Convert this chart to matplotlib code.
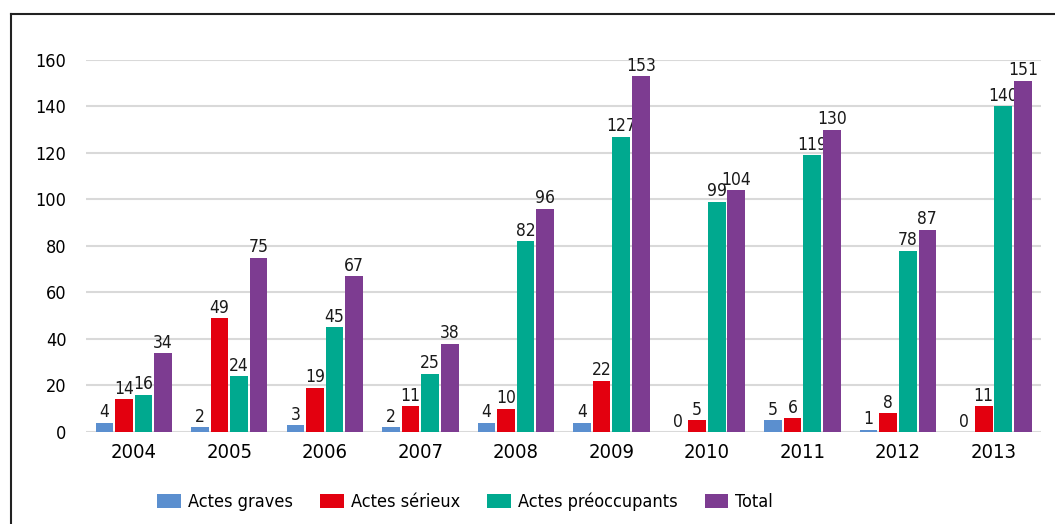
import matplotlib.pyplot as plt
import numpy as np
from matplotlib.lines import Line2D

plt.rcParams['font.family'] = ['DejaVu Sans']
plt.rcParams['font.stretch'] = 'condensed'

years = ['2004', '2005', '2006', '2007', '2008', '2009', '2010', '2011', '2012', '2013']
graves = [4, 2, 3, 2, 4, 4, 0, 5, 1, 0]
serieux = [14, 49, 19, 11, 10, 22, 5, 6, 8, 11]
preoccupants = [16, 24, 45, 25, 82, 127, 99, 119, 78, 140]
total = [34, 75, 67, 38, 96, 153, 104, 130, 87, 151]

series = [
    ('Actes graves', graves, '#5b8fcf'),
    ('Actes sérieux', serieux, '#e3000f'),
    ('Actes préoccupants', preoccupants, '#00a98f'),
    ('Total', total, '#7d3c91'),
]

fig = plt.figure(figsize=(10.55, 5.24), dpi=100)
ax = fig.add_axes([0.0815, 0.1756, 0.9055, 0.71])

x = np.arange(len(years))
w = 0.205
for i, (name, vals, col) in enumerate(series):
    off = (i - 1.5) * w
    bars = ax.bar(x + off, vals, width=w * 0.9, color=col, label=name, zorder=3)
    ax.bar_label(bars, padding=1, fontsize=12.5, color='#1a1a1a', clip_on=False)

ax.set_xlim(-0.5, len(years) - 0.5)
ax.set_ylim(0, 160)
ax.set_yticks(range(0, 161, 20))
ax.set_xticks(x)
ax.set_xticklabels(years, fontsize=14.5)
ax.tick_params(axis='y', labelsize=13, length=0, pad=14)
ax.tick_params(axis='x', length=0, pad=8)
ax.grid(axis='y', color='#d9d9d9', linewidth=1.5, zorder=0)
for s in ax.spines.values():
    s.set_visible(False)

ax.legend(loc='upper center', bbox_to_anchor=(0.397, -0.12), ncol=4, frameon=False,
          fontsize=13, handlelength=1.3, handleheight=0.8, columnspacing=1.5,
          handletextpad=0.4)

# frame around the figure (top and left visible)
fig.add_artist(Line2D([11 / 1055, 1], [1 - 14 / 524, 1 - 14 / 524], color='#222222', lw=1.5))
fig.add_artist(Line2D([11 / 1055, 11 / 1055], [0, 1 - 14 / 524], color='#222222', lw=1.5))

fig.savefig('out.png', dpi=100)
